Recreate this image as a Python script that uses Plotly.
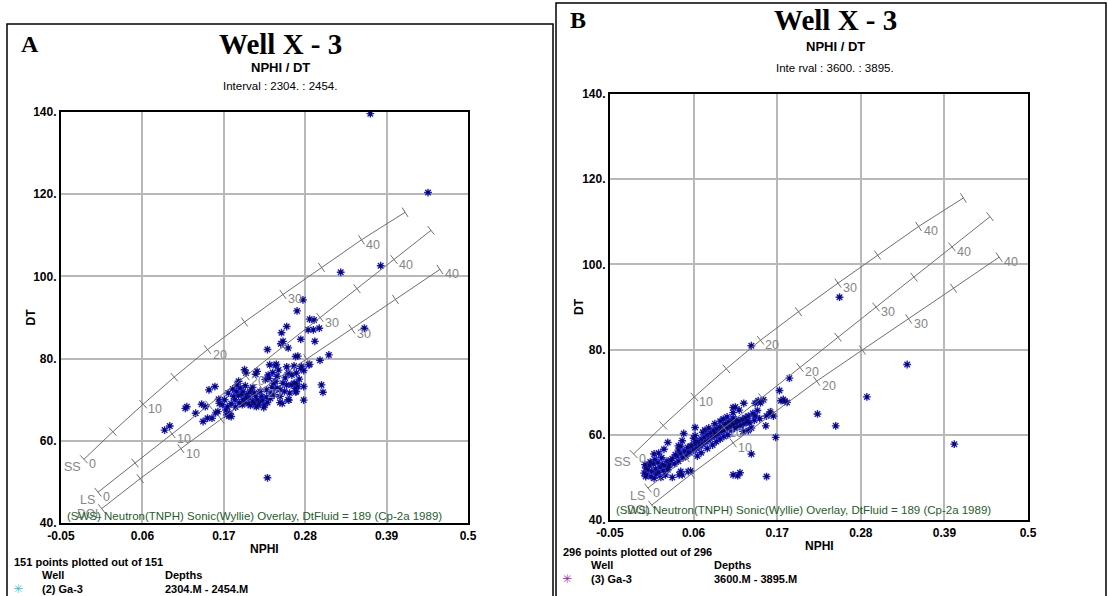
import plotly.graph_objects as go

W, H = 1108, 596

# ---------------- data: interval 2304-2454 (panel A) ----------------
a_nphi = [
    0.368, 0.446, 0.382, 0.328, 0.277, 0.269, 0.286, 0.292, 0.255, 0.248,
    0.284, 0.291, 0.299, 0.360, 0.250, 0.247, 0.257, 0.274, 0.293, 0.229,
    0.312, 0.300, 0.286, 0.267, 0.270, 0.241, 0.255, 0.265, 0.274, 0.278,
    0.302, 0.304, 0.278, 0.278, 0.258, 0.246, 0.267, 0.267, 0.255, 0.265,
    0.229, 0.224, 0.229, 0.090, 0.097, 0.118, 0.120, 0.132, 0.140, 0.145,
    0.142, 0.148, 0.154, 0.150, 0.158, 0.163, 0.164, 0.162, 0.171, 0.173,
    0.175, 0.178, 0.180, 0.183, 0.185, 0.190, 0.188, 0.198, 0.200, 0.215,
    0.213, 0.192, 0.196, 0.201, 0.204, 0.209, 0.211, 0.215, 0.217, 0.207,
    0.211, 0.221, 0.219, 0.200, 0.196, 0.194, 0.198, 0.203, 0.206, 0.213,
    0.218, 0.222, 0.209, 0.199, 0.205, 0.214, 0.190, 0.187, 0.225, 0.226,
    0.232, 0.240, 0.242, 0.237, 0.234, 0.238, 0.242, 0.246, 0.246, 0.253,
    0.257, 0.249, 0.261, 0.259, 0.268, 0.268, 0.270, 0.268, 0.275, 0.285,
    0.257, 0.235, 0.240, 0.231, 0.228, 0.233, 0.174, 0.177, 0.180, 0.159,
    0.168, 0.176, 0.182, 0.186, 0.191, 0.195, 0.230, 0.236, 0.244, 0.250,
    0.252, 0.262, 0.272, 0.228,
]
a_dt = [
    139.6, 120.4, 102.6, 101.0, 94.3, 91.6, 89.6, 89.4, 87.8, 86.3,
    87.0, 87.0, 87.4, 87.4, 84.2, 83.6, 82.6, 84.7, 84.2, 82.2,
    80.9, 79.6, 78.6, 80.5, 80.6, 78.6, 78.0, 78.2, 77.6, 77.1,
    73.6, 71.8, 73.2, 69.9, 69.9, 69.3, 71.9, 72.8, 73.6, 74.0,
    69.3, 68.1, 51.0, 62.6, 63.6, 67.9, 68.3, 66.7, 68.9, 68.3,
    64.7, 65.5, 65.5, 72.4, 73.2, 70.1, 69.1, 67.1, 70.0, 67.5,
    68.3, 66.7, 65.9, 70.8, 70.0, 74.5, 73.6, 77.3, 76.5, 76.9,
    76.2, 72.8, 72.0, 71.2, 70.4, 69.6, 69.1, 70.0, 68.7, 72.4,
    71.6, 70.8, 72.0, 70.4, 70.0, 71.3, 69.4, 69.0, 68.6, 70.8,
    69.4, 69.8, 73.0, 73.4, 71.8, 68.3, 71.0, 72.0, 68.7, 74.9,
    78.5, 78.3, 75.7, 74.0, 71.6, 71.2, 72.8, 72.4, 70.8, 75.3,
    76.5, 69.1, 73.6, 71.6, 76.5, 74.0, 73.2, 72.0, 78.1, 78.5,
    70.0, 73.0, 74.5, 75.2, 72.4, 70.3, 66.3, 66.0, 69.0, 66.8,
    68.8, 71.6, 72.6, 68.2, 69.2, 68.8, 76.0, 76.6, 77.2, 74.0,
    72.0, 76.0, 75.0, 70.6,
]

# ---------------- data: interval 3600-3895 (panel B) ----------------
b_nphi = [
    0.252, 0.136, 0.341, 0.288, 0.223, 0.247, 0.403, 0.186, 0.173, 0.175,
    0.180, 0.178, 0.183, 0.168, 0.155, 0.136, 0.112, 0.121, 0.118, 0.156,
    0.112, 0.126, 0.141, 0.145, 0.152, 0.148, 0.160, 0.165, 0.161, 0.156,
    0.144, 0.141, 0.147, 0.115, 0.131, 0.116, 0.110, 0.099, 0.062, 0.075,
    0.062, 0.047, 0.045, 0.026, 0.021, 0.008, -0.003, 0.040, 0.040, 0.053,
    0.056, 0.045, 0.041, 0.027, 0.062, 0.056, 0.043, 0.014, 0.036, 0.088,
    0.112, 0.043, 0.053, 0.032,
    -0.005, -0.003, -0.002, 0.000, 0.002, 0.004, 0.005, 0.007, 0.008, 0.010,
    0.011, 0.013, 0.014, 0.016, 0.017, 0.019, 0.020, 0.022, 0.023, 0.025,
    0.003, -0.004, 0.009, 0.018, 0.026, 0.028, 0.030,
    0.032, 0.035, 0.038, 0.040, 0.043, 0.046, 0.048, 0.050, 0.052, 0.055,
    0.057, 0.060, 0.062, 0.064, 0.066, 0.068, 0.070, 0.072, 0.074, 0.076,
    0.078, 0.080, 0.082, 0.084, 0.086, 0.088, 0.090, 0.092, 0.094, 0.096,
    0.098, 0.100, 0.102, 0.104, 0.106, 0.108, 0.110, 0.112, 0.114, 0.116,
    0.118, 0.120, 0.122, 0.124, 0.126, 0.128, 0.130, 0.132, 0.134, 0.136,
    0.065, 0.070, 0.078, 0.085, 0.090, 0.095, 0.100, 0.105, 0.060, 0.072,
    0.080, 0.088, 0.095, 0.104, 0.112, 0.120, 0.125, 0.132, 0.140, 0.138,
]
b_dt = [
    92.3, 80.9, 76.5, 68.9, 64.9, 62.1, 57.8, 73.3, 70.4, 68.0,
    67.9, 68.3, 67.6, 59.4, 62.1, 55.5, 50.6, 51.1, 50.4, 50.2,
    66.4, 67.4, 67.4, 68.0, 68.2, 67.5, 64.9, 64.4, 65.4, 64.4,
    65.7, 64.4, 63.8, 66.5, 63.3, 63.5, 63.1, 63.7, 61.7, 61.1,
    59.8, 60.3, 58.6, 58.2, 56.6, 55.5, 50.2, 57.4, 56.4, 55.9,
    51.5, 50.6, 50.6, 52.3, 58.4, 57.3, 57.3, 55.7, 55.3, 60.4,
    63.9, 51.4, 51.4, 50.0,
    51.0, 52.2, 50.6, 51.8, 52.8, 50.2, 51.4, 53.2, 49.8, 52.0,
    50.8, 53.5, 51.2, 52.4, 50.0, 53.0, 51.6, 52.8, 50.6, 53.8,
    53.6, 53.0, 54.2, 54.6, 51.8, 53.0, 54.0,
    54.4, 53.2, 55.0, 53.8, 55.6, 54.6, 56.2, 55.0, 57.0, 55.8,
    57.4, 56.4, 57.8, 56.8, 58.4, 57.4, 59.0, 57.8, 59.4, 58.4,
    60.0, 58.8, 60.4, 59.4, 61.0, 59.8, 61.4, 60.2, 61.8, 60.8,
    62.2, 61.0, 62.6, 61.6, 63.0, 62.0, 61.2, 62.4, 61.6, 62.8,
    61.8, 63.2, 62.2, 63.6, 62.6, 64.0, 63.0, 64.4, 62.8, 61.6,
    55.0, 55.8, 56.8, 57.6, 58.4, 59.0, 59.6, 60.0, 59.2, 60.6,
    61.6, 62.6, 63.2, 64.2, 65.2, 65.8, 60.8, 61.0, 63.4, 65.0,
]

# ------- neutron / sonic (Wyllie) lithology overlay, DtFluid = 189 -------
ss_por = [0, 5, 10, 15, 20, 25, 30, 35, 40, 45]
ss_nphi = [-0.019, 0.020, 0.061, 0.103, 0.148, 0.198, 0.250, 0.302, 0.356, 0.415]
ss_dt = [55.5, 62.2, 68.9, 75.5, 82.2, 88.9, 95.6, 102.2, 108.9, 115.6]

ls_por = [0, 5, 10, 15, 20, 25, 30, 35, 40, 45]
ls_nphi = [0.000, 0.050, 0.100, 0.150, 0.200, 0.250, 0.300, 0.350, 0.400, 0.450]
ls_dt = [47.5, 54.6, 61.7, 68.7, 75.8, 82.9, 90.0, 97.0, 104.1, 111.2]

dol_por = [0, 5, 10, 15, 20, 25, 30, 35, 40]
dol_nphi = [0.005, 0.057, 0.112, 0.166, 0.222, 0.282, 0.343, 0.402, 0.462]
dol_dt = [43.5, 50.8, 58.1, 65.3, 72.6, 79.9, 87.2, 94.4, 101.7]

x_tickvals = [-0.05, 0.06, 0.17, 0.28, 0.39, 0.5]
x_ticktext = ["-0.05", "0.06", "0.17", "0.28", "0.39", "0.5"]
y_tickvals = [40, 60, 80, 100, 120, 140]
y_ticktext = ["40.", "60.", "80.", "100.", "120.", "140."]
X_RANGE = [-0.05, 0.5]
Y_RANGE = [40, 140]

# ---------------- page geometry (pixels) ----------------
PANELS = {
    "A": dict(plot=(61, 468, 112, 523), frame=(7, 553, 24, 600), xa="x", ya="y",
              title_y=44, sub_y=68, int_y=86, title_x=280, letter=(30, 44),
              interval="Interval : 2304. : 2454.", count="151 points plotted out of 151",
              foot_y=562, well_num="(2) Ga-3", depths="2304.M - 2454.M",
              sym_color="#35c8d0", note_y=516),
    "B": dict(plot=(610, 1028, 94, 520), frame=(556, 1106, 3, 600), xa="x2", ya="y2",
              title_y=20, sub_y=46, int_y=68, title_x=835, letter=(578, 20),
              interval="Inte rval : 3600. : 3895.", count="296 points plotted out of 296",
              foot_y=552, well_num="(3) Ga-3", depths="3600.M - 3895.M",
              sym_color="#9a2a9a", note_y=510),
}

SANS = "Liberation Sans, Arial, sans-serif"
SERIF = "Liberation Serif, Times New Roman, serif"
LINE_GREY = "#6e6e6e"
LABEL_GREY = "#858585"


def px(x):
    return x / W


def py(y):
    return 1 - y / H


fig = go.Figure()
annotations = []
shapes = []


def tick_segments(nphi, dt, sx, sy, half=5.5):
    xs, ys = [], []
    n = len(nphi)
    for i in range(n):
        j0, j1 = max(i - 1, 0), min(i + 1, n - 1)
        vx = (nphi[j1] - nphi[j0]) * sx
        vy = (dt[j1] - dt[j0]) * sy
        norm = (vx * vx + vy * vy) ** 0.5
        nx, ny = -vy / norm, vx / norm
        xs += [nphi[i] - nx * half / sx, nphi[i] + nx * half / sx, None]
        ys += [dt[i] - ny * half / sy, dt[i] + ny * half / sy, None]
    return xs, ys


for key, (pn, pdt) in {"A": (a_nphi, a_dt), "B": (b_nphi, b_dt)}.items():
    P = PANELS[key]
    x0, x1, y0, y1 = P["plot"]
    sx = (x1 - x0) / (X_RANGE[1] - X_RANGE[0])
    sy = (y1 - y0) / (Y_RANGE[1] - Y_RANGE[0])
    xa, ya = P["xa"], P["ya"]

    # data points: blue asterisk arms with a dark core
    fig.add_trace(go.Scatter(x=pn, y=pdt, mode="markers", xaxis=xa, yaxis=ya,
                             marker=dict(symbol="asterisk", size=6.5,
                                         line=dict(color="#1c1cd2", width=1.4)),
                             hoverinfo="skip", showlegend=False))
    fig.add_trace(go.Scatter(x=pn, y=pdt, mode="markers", xaxis=xa, yaxis=ya,
                             marker=dict(symbol="square", size=3.2, color="#0b0b5c",
                                         line=dict(width=0)),
                             hoverinfo="skip", showlegend=False))

    # lithology overlay curves with porosity ticks
    for name, por, nphi, dt in (("SS", ss_por, ss_nphi, ss_dt),
                                ("LS", ls_por, ls_nphi, ls_dt),
                                ("DOL", dol_por, dol_nphi, dol_dt)):
        fig.add_trace(go.Scatter(x=nphi, y=dt, mode="lines", xaxis=xa, yaxis=ya,
                                 line=dict(color=LINE_GREY, width=1),
                                 hoverinfo="skip", showlegend=False))
        tx, ty = tick_segments(nphi, dt, sx, sy)
        fig.add_trace(go.Scatter(x=tx, y=ty, mode="lines", xaxis=xa, yaxis=ya,
                                 line=dict(color=LINE_GREY, width=1),
                                 hoverinfo="skip", showlegend=False))
        for p, xv, yv in zip(por, nphi, dt):
            # the dolomite zero label falls beneath the overlay note, so it is left out
            if p % 10 == 0 and p <= 40 and not (name == "DOL" and p == 0):
                annotations.append(dict(x=xv, y=yv, xref=xa, yref=ya, text=str(p),
                                        showarrow=False, xanchor="left", yanchor="middle",
                                        xshift=3, yshift=-5,
                                        font=dict(family=SANS, size=12.5, color=LABEL_GREY)))
        if name == "DOL":
            # lithology tag sits at the lower border and is clipped by the plot area
            fig.add_trace(go.Scatter(x=[nphi[0]], y=[dt[0]], mode="text", text=["DOL"],
                                     textposition="bottom left", xaxis=xa, yaxis=ya,
                                     cliponaxis=True,
                                     textfont=dict(family=SANS, size=12, color=LABEL_GREY),
                                     hoverinfo="skip", showlegend=False))
        else:
            annotations.append(dict(x=nphi[0], y=dt[0], xref=xa, yref=ya, text=name,
                                    showarrow=False, xanchor="right", yanchor="middle",
                                    xshift=-1, yshift=-8,
                                    font=dict(family=SANS, size=12.5, color=LABEL_GREY)))

    # overlay description
    annotations.append(dict(x=px(x0 + 4), y=py(P["note_y"]), xref="paper", yref="paper",
                            text="(SWS) Neutron(TNPH) Sonic(Wyllie) Overlay, DtFluid = 189 (Cp-2a 1989)",
                            showarrow=False, xanchor="left", yanchor="middle",
                            font=dict(family=SANS, size=11.5, color="#23602a")))

    # headings
    lx, ly = P["letter"]
    annotations.append(dict(x=px(lx), y=py(ly), xref="paper", yref="paper", text="<b>%s</b>" % key,
                            showarrow=False, xanchor="center", yanchor="middle",
                            font=dict(family=SERIF, size=24, color="black")))
    annotations.append(dict(x=px(P["title_x"]), y=py(P["title_y"]), xref="paper", yref="paper",
                            text="<b>Well X - 3</b>", showarrow=False, xanchor="center",
                            yanchor="middle", font=dict(family=SERIF, size=29, color="black")))
    annotations.append(dict(x=px(P["title_x"]), y=py(P["sub_y"]), xref="paper", yref="paper",
                            text="<b>NPHI / DT</b>", showarrow=False, xanchor="center",
                            yanchor="middle", font=dict(family=SANS, size=13, color="black")))
    annotations.append(dict(x=px(P["title_x"]), y=py(P["int_y"]), xref="paper", yref="paper",
                            text=P["interval"], showarrow=False, xanchor="center",
                            yanchor="middle", font=dict(family=SANS, size=11.5, color="black")))

    # axis titles
    annotations.append(dict(x=px((x0 + x1) / 2), y=py(y1 + 26), xref="paper", yref="paper",
                            text="<b>NPHI</b>", showarrow=False, xanchor="center", yanchor="middle",
                            font=dict(family=SANS, size=12, color="black")))
    annotations.append(dict(x=px(x0 - 31), y=py((y0 + y1) / 2), xref="paper", yref="paper",
                            text="<b>DT</b>", showarrow=False, textangle=-90,
                            xanchor="center", yanchor="middle",
                            font=dict(family=SANS, size=12, color="black")))

    # footer block
    fl = P["frame"][0]
    fy = P["foot_y"]
    foot_font = dict(family=SANS, size=11, color="black")
    annotations.append(dict(x=px(fl + 5), y=py(fy), xref="paper", yref="paper",
                            text="<b>%s</b>" % P["count"], showarrow=False,
                            xanchor="left", yanchor="middle", font=foot_font))
    annotations.append(dict(x=px(fl + 33), y=py(fy + 13), xref="paper", yref="paper",
                            text="<b>Well</b>", showarrow=False, xanchor="left",
                            yanchor="middle", font=foot_font))
    annotations.append(dict(x=px(fl + 156), y=py(fy + 13), xref="paper", yref="paper",
                            text="<b>Depths</b>", showarrow=False, xanchor="left",
                            yanchor="middle", font=foot_font))
    annotations.append(dict(x=px(fl + 11), y=py(fy + 27), xref="paper", yref="paper",
                            text="✳", showarrow=False, xanchor="center",
                            yanchor="middle", font=dict(family="DejaVu Sans", size=12,
                                                        color=P["sym_color"])))
    annotations.append(dict(x=px(fl + 33), y=py(fy + 27), xref="paper", yref="paper",
                            text="<b>%s</b>" % P["well_num"], showarrow=False, xanchor="left",
                            yanchor="middle", font=foot_font))
    annotations.append(dict(x=px(fl + 156), y=py(fy + 27), xref="paper", yref="paper",
                            text="<b>%s</b>" % P["depths"], showarrow=False, xanchor="left",
                            yanchor="middle", font=foot_font))

    # panel frame
    fx0, fx1, fy0, fy1 = P["frame"]
    shapes.append(dict(type="rect", xref="paper", yref="paper",
                       x0=px(fx0), x1=px(fx1), y0=py(fy1), y1=py(fy0),
                       line=dict(color="black", width=1.5), layer="below"))

axis_common = dict(
    tickvals=x_tickvals, ticktext=x_ticktext, range=X_RANGE,
    showgrid=True, gridcolor="#b8b8b8", gridwidth=1.5, zeroline=False,
    showline=True, linecolor="black", linewidth=2.2, mirror=True, ticks="",
    tickfont=dict(family=SANS, size=12, color="black", weight="bold"),
    automargin=False, fixedrange=True,
)
yaxis_common = dict(axis_common, tickvals=y_tickvals, ticktext=y_ticktext, range=Y_RANGE)


def dom_x(P):
    return [px(P["plot"][0]), px(P["plot"][1])]


def dom_y(P):
    return [py(P["plot"][3]), py(P["plot"][2])]


A, B = PANELS["A"], PANELS["B"]
fig.update_layout(
    width=W, height=H, margin=dict(l=0, r=0, t=0, b=0),
    paper_bgcolor="white", plot_bgcolor="white", showlegend=False,
    xaxis=dict(axis_common, domain=dom_x(A), anchor="y"),
    yaxis=dict(yaxis_common, domain=dom_y(A), anchor="x"),
    xaxis2=dict(axis_common, domain=dom_x(B), anchor="y2"),
    yaxis2=dict(yaxis_common, domain=dom_y(B), anchor="x2"),
    annotations=annotations, shapes=shapes,
)

fig.write_html("out.html")
